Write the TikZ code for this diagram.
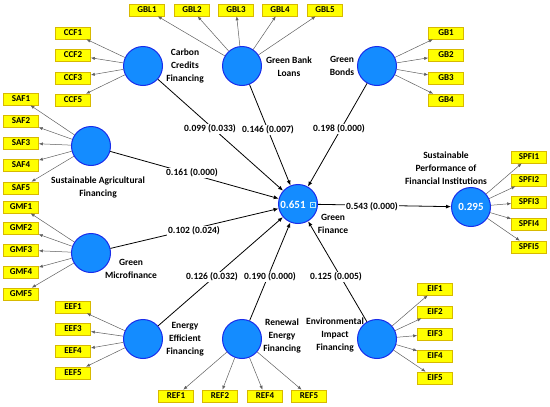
\documentclass[tikz,border=0pt]{standalone}
\usepackage{fontspec}
\setmainfont{Carlito}
\usetikzlibrary{arrows.meta}
\definecolor{cblue}{RGB}{20,140,255}
\definecolor{cbord}{RGB}{25,45,235}
\definecolor{ybox}{RGB}{255,255,0}
\definecolor{ybord}{RGB}{215,185,0}
\definecolor{lgray}{RGB}{95,95,95}
\tikzset{
  lv/.style={circle, fill=cblue, draw=cbord, line width=1pt, minimum size=39pt, inner sep=0pt},
  ind/.style={rectangle, fill=ybox, draw=ybord, line width=0.6pt, minimum width=35pt, minimum height=12pt, inner sep=0pt, font=\fontsize{9}{10}\selectfont\bfseries},
  lbl/.style={align=center, inner sep=0pt, font=\fontsize{9.5}{13}\selectfont\bfseries},
  coef/.style={fill=white, inner sep=1pt, font=\fontsize{9.5}{11}\selectfont\bfseries},
  val/.style={text=white, inner sep=0pt, font=\fontsize{11}{12}\selectfont\bfseries},
  pth/.style={draw=black, line width=0.8pt, -{Latex[length=5pt,width=4pt]}},
  ld/.style={draw=lgray, line width=0.5pt, -{Latex[length=4pt,width=3.2pt]}}
}
\begin{document}
\begin{tikzpicture}[x=1pt,y=-1pt]
\useasboundingbox (0,0) rectangle (550,407);
% latent variables
\node[lv] (ccf) at (143,66) {};
\node[lv] (gbl) at (242,66) {};
\node[lv] (gb) at (377,66) {};
\node[lv] (saf) at (91,146) {};
\node[lv] (gmf) at (91,253) {};
\node[lv] (eef) at (143,339) {};
\node[lv] (ref) at (242,339) {};
\node[lv] (eif) at (377,339) {};
\node[lv] (gf) at (298,204) {};
\node[lv] (spfi) at (471,207) {};
\node[val] (gfv) at (293,205) {0.651};
\node[val] (spfiv) at (471,207) {0.295};
\draw[white!75!cyan, line width=0.5pt] (310,202) rectangle (315,207);
\fill[white!75!cyan] (311.8,203.8) rectangle (313.2,205.2);
% indicators
\foreach \n/\y in {1/33,2/55,3/78,5/100} \node[ind] (ccf\n) at (73,\y) {CCF\n};
\foreach \n/\x in {1/147,2/192,3/236,4/280,5/325} \node[ind] (gbl\n) at (\x,10) {GBL\n};
\foreach \n/\y in {1/33,2/55,3/78,4/100} \node[ind] (gb\n) at (446,\y) {GB\n};
\foreach \n/\y in {1/99,2/121,3/143,4/165,5/188} \node[ind] (saf\n) at (21,\y) {SAF\n};
\foreach \n/\y in {1/207,2/228,3/250,4/272,5/294} \node[ind] (gmf\n) at (21,\y) {GMF\n};
\foreach \n/\y in {1/307,3/329,4/351,5/373} \node[ind] (eef\n) at (73,\y) {EEF\n};
\foreach \n/\x in {1/176,2/220,4/265,5/309} \node[ind] (ref\n) at (\x,396) {REF\n};
\foreach \n/\y in {1/289,2/312,3/334,4/356,5/378} \node[ind] (eif\n) at (435,\y) {EIF\n};
\foreach \n/\y in {1/157,2/180,3/202,4/224,5/247} \node[ind] (spfi\n) at (529,\y) {SPFI\n};
% loadings
\foreach \n in {1,2,3,5} \draw[ld] (ccf) -- (ccf\n);
\foreach \n in {1,2,3,4,5} \draw[ld] (gbl) -- (gbl\n);
\foreach \n in {1,2,3,4} \draw[ld] (gb) -- (gb\n);
\foreach \n in {1,2,3,4,5} \draw[ld] (saf) -- (saf\n);
\foreach \n in {1,2,3,4,5} \draw[ld] (gmf) -- (gmf\n);
\foreach \n in {1,3,4,5} \draw[ld] (eef) -- (eef\n);
\foreach \n in {1,2,4,5} \draw[ld] (ref) -- (ref\n);
\foreach \n in {1,2,3,4,5} \draw[ld] (eif) -- (eif\n);
\foreach \n in {1,2,3,4,5} \draw[ld] (spfi) -- (spfi\n);
% paths
\draw[pth] (ccf) -- (gf);
\draw[pth] (gbl) -- (gf);
\draw[pth] (gb) -- (gf);
\draw[pth] (saf) -- (gf);
\draw[pth] (gmf) -- (gf);
\draw[pth] (eef) -- (gf);
\draw[pth] (ref) -- (gf);
\draw[pth] (eif) -- (gf);
\draw[pth] (gf) -- (spfi);
% coefficients
\node[coef] (c1) at (210,129) {0.099 (0.033)};
\node[coef] (c2) at (268,130) {0.146 (0.007)};
\node[coef] (c3) at (339,129) {0.198 (0.000)};
\node[coef] (c4) at (192,173) {0.161 (0.000)};
\node[coef] (c5) at (194,231) {0.102 (0.024)};
\node[coef] (c6) at (372,207) {0.543 (0.000)};
\node[coef] (c7) at (212,277) {0.126 (0.032)};
\node[coef] (c8) at (270,277) {0.190 (0.000)};
\node[coef] (c9) at (336,277) {0.125 (0.005)};
% construct labels
\node[lbl] (lccf) at (185,66) {Carbon\\Credits\\Financing};
\node[lbl] (lgbl) at (289,67) {Green Bank\\Loans};
\node[lbl] (lgb) at (342,65.5) {Green\\Bonds};
\node[lbl] (lsaf) at (98,187.5) {Sustainable Agricultural\\Financing};
\node[lbl] (lgmf) at (131,269) {Green\\Microfinance};
\node[lbl] (leef) at (185,339) {Energy\\Efficient\\Financing};
\node[lbl] (lref) at (282,336) {Renewal\\Energy\\Financing};
\node[lbl] (leif) at (335,335) {Environmental\\Impact\\Financing};
\node[lbl] (lgf) at (333,224) {Green\\Finance};
\node[lbl] (lspfi) at (446,168.5) {Sustainable\\Performance of\\Financial Institutions};
\end{tikzpicture}
\end{document}
